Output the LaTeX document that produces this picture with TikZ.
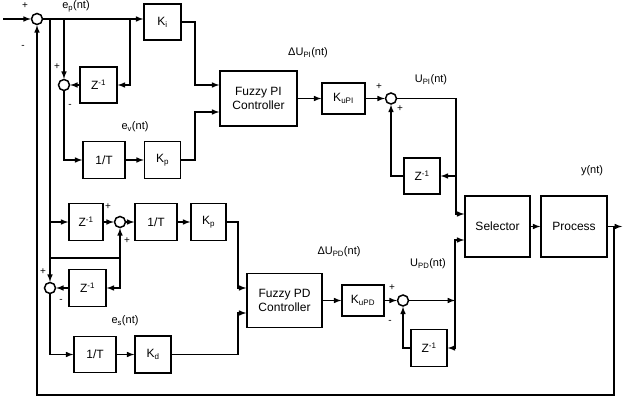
\documentclass[tikz,border=0pt]{standalone}
\usepackage{fontspec}
\setmainfont{Liberation Sans}
\usetikzlibrary{shapes,arrows,positioning,calc}

\begin{document}
\begin{tikzpicture}[x=1pt,y=-1pt,line width=1.5pt,>=latex,
	blk/.style={draw, inner sep=0pt, align=center, font=\fontsize{12}{14}\selectfont},
	sumc/.style={draw, circle, inner sep=0pt, minimum size=11pt},
	lbl/.style={inner sep=0pt, font=\fontsize{11}{13}\selectfont},
	sgn/.style={inner sep=0pt, font=\fontsize{10}{11}\selectfont}]
						\useasboundingbox (0,0) rectangle (626,403);
						% PI branch
						\node[sumc] (s1) at (37,19) {};
						\node[blk, minimum width=37pt, minimum height=36pt] (ki) at (162.5,22) {K\textsubscript{i}};
						\node[sumc] (s2) at (64,85) {};
						\node[blk, minimum width=37pt, minimum height=36pt] (z1) at (98.5,85) {Z\textsuperscript{-1}};
						\node[blk, minimum width=42pt, minimum height=37pt] (it1) at (104,160) {1/T};
						\node[blk, minimum width=36pt, minimum height=37pt] (kp1) at (162.5,160) {K\textsubscript{p}};
						\node[blk, minimum width=77pt, minimum height=55pt] (fpi) at (258.5,98.5) {Fuzzy PI\\Controller};
						\node[blk, minimum width=43pt, minimum height=31pt] (kupi) at (343.5,98.5) {K\textsubscript{uPI}};
						\node[sumc] (s3) at (391,98.5) {};
						\node[blk, minimum width=36pt, minimum height=36pt] (z2) at (422,176) {Z\textsuperscript{-1}};
						\node[blk, minimum width=65pt, minimum height=61pt] (sel) at (497.5,226.5) {Selector};
						\node[blk, minimum width=66pt, minimum height=61pt] (proc) at (574,226.5) {Process};
						% PD branch
						\node[blk, minimum width=34pt, minimum height=37pt] (z3) at (86,222) {Z\textsuperscript{-1}};
						\node[sumc] (s4) at (120,222) {};
						\node[blk, minimum width=42pt, minimum height=37pt] (it2) at (156,222) {1/T};
						\node[blk, minimum width=35pt, minimum height=37pt] (kp2) at (208.5,222) {K\textsubscript{p}};
						\node[sumc] (s5) at (50,288) {};
						\node[blk, minimum width=37pt, minimum height=37pt] (z4) at (87.5,288) {Z\textsuperscript{-1}};
						\node[blk, minimum width=42pt, minimum height=36pt] (it3) at (95,354.5) {1/T};
						\node[blk, minimum width=36pt, minimum height=37pt] (kd) at (153,354.5) {K\textsubscript{d}};
						\node[blk, minimum width=75pt, minimum height=54pt] (fpd) at (284.5,300.5) {Fuzzy PD\\Controller};
						\node[blk, minimum width=42pt, minimum height=31pt] (kupd) at (363,300.5) {K\textsubscript{uPD}};
						\node[sumc] (s6) at (403,300.5) {};
						\node[blk, minimum width=36pt, minimum height=37pt] (z5) at (429,348) {Z\textsuperscript{-1}};
						% bends and taps
						\coordinate (in) at (3,19);
						\coordinate (ta) at (50,19);
						\coordinate (tb) at (64,19);
						\coordinate (tc) at (130,19);
						\coordinate (b1) at (195,85);
						\coordinate (b2) at (195,112);
						\coordinate (c1) at (456,214);
						\coordinate (c2) at (456,176);
						\coordinate (out) at (622,226.5);
						\coordinate (fb) at (614,226.5);
						\coordinate (fb3) at (37,395);
						\coordinate (td) at (50,222);
						\coordinate (te) at (50,258);
						\coordinate (tf) at (120,258);
						\coordinate (b3) at (238,288);
						\coordinate (b4) at (238,313);
						\coordinate (c3) at (455,300.5);
						\coordinate (c4) at (455,240);
						% connectors
						\draw[->] (in) -- (s1.west);
						\draw[->] (s1.east) -- (s1 -| ki.west);
						\draw[->] (tc) |- (z1.east);
						\draw[->] (tb) -- (s2.north);
						\draw[->] (z1.west) -- (s2.east);
						\draw[->] (s2.south) |- (it1.west);
						\draw[->] (it1.east) -- (kp1.west);
						\draw[->] (ki.east) -| (b1) -- (b1 -| fpi.west);
						\draw[->] (kp1.east) -| (b2) -- (b2 -| fpi.west);
						\draw[->] (fpi.east) -- (kupi.west);
						\draw[->] (kupi.east) -- (s3.west);
						\draw[->] (s3.east) -| (c1) -- (c1 -| sel.west);
						\draw[->] (c2) -- (z2.east);
						\draw[->] (z2.west) -| (s3.south);
						\draw[->] (sel.east) -- (proc.west);
						\draw[->] (proc.east) -- (out);
						\draw[->] (fb) |- (fb3) -- (s1.south);
						\draw[->] (ta) -- (s5.north);
						\draw[->] (td) -- (z3.west);
						\draw[->] (z3.east) -- (s4.west);
						\draw[->] (s4.east) -- (it2.west);
						\draw[->] (it2.east) -- (kp2.west);
						\draw[->] (kp2.east) -| (b3) -- (b3 -| fpd.west);
						\draw[->] (te) -- (tf) -- (s4.south);
						\draw[->] (tf) |- (z4.east);
						\draw[->] (z4.west) -- (s5.east);
						\draw[->] (s5.south) |- (it3.west);
						\draw[->] (it3.east) -- (kd.west);
						\draw[->] (kd.east) -| (b4) -- (b4 -| fpd.west);
						\draw[->] (fpd.east) -- (kupd.west);
						\draw[->] (kupd.east) -- (s6.west);
						\draw[->] (s6.east) -- (c3);
						\draw[->] (c3) -- (c4) -- (c4 -| sel.west);
						\draw[->] (c3) |- (z5.east);
						\draw[->] (z5.west) -| (s6.south);
						% labels
						\node[lbl] (lep) at (76,6.5) {e\textsubscript{p}(nt)};
						\node[lbl] (lev) at (135,127) {e\textsubscript{v}(nt)};
						\node[lbl] (les) at (125,321) {e\textsubscript{s}(nt)};
						\node[lbl] (ldpi) at (308,53) {ΔU\textsubscript{PI}(nt)};
						\node[lbl] (lupi) at (431,80) {U\textsubscript{PI}(nt)};
						\node[lbl] (ldpd) at (339,252) {ΔU\textsubscript{PD}(nt)};
						\node[lbl] (lupd) at (428,264) {U\textsubscript{PD}(nt)};
						\node[lbl] (ly) at (592,171) {y(nt)};
						\node[sgn] at (25,6) {+};
						\node[sgn] at (23,47) {-};
						\node[sgn] at (57,67) {+};
						\node[sgn] at (70,106) {-};
						\node[sgn] at (379,87) {+};
						\node[sgn] at (400,109) {+};
						\node[sgn] at (108,207) {+};
						\node[sgn] at (127,241) {+};
						\node[sgn] at (43,272) {+};
						\node[sgn] at (61,301) {-};
						\node[sgn] at (392,288) {+};
						\node[sgn] at (390,322) {-};
					\end{tikzpicture}
\end{document}
